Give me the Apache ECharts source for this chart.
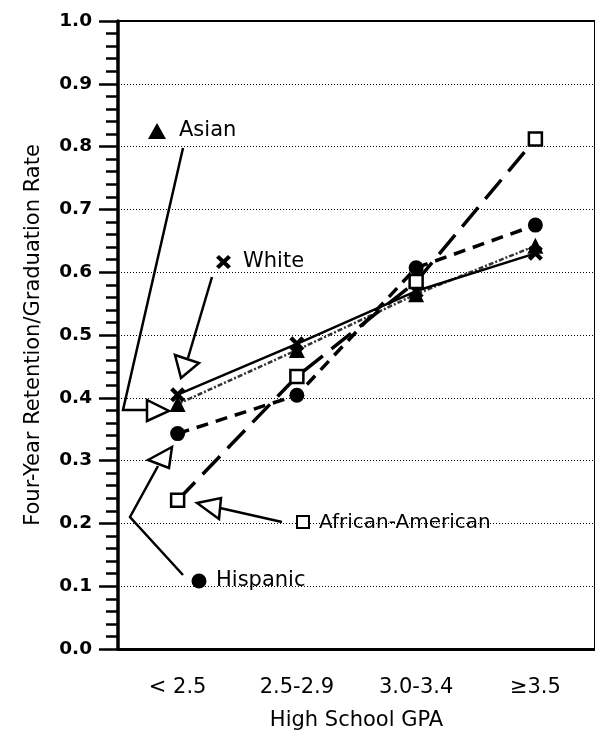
<!DOCTYPE html>
<html>
<head>
<meta charset="utf-8">
<script src="https://cdn.jsdelivr.net/npm/echarts@6/dist/echarts.min.js"></script>
<style>
  html, body { margin: 0; padding: 0; background: #fff; }
  #chart { width: 595px; height: 736px; }
</style>
</head>
<body>
<div id="chart"></div>
<script>
// categories and values
const gpaGroups = ["< 2.5", "2.5-2.9", "3.0-3.4", "≥3.5"];
const asian = [0.39, 0.476, 0.565, 0.642];
const white = [0.405, 0.486, 0.57, 0.63];
const hispanic = [0.343, 0.404, 0.607, 0.675];
const africanAmerican = [0.237, 0.434, 0.585, 0.812];

const FONT = "DejaVu Sans";
const xMark = "path://M2,0 L5,3 L8,0 L10,2 L7,5 L10,8 L8,10 L5,7 L2,10 L0,8 L3,5 L0,2 Z";
// same cross shape as points, used for the callout marker
const crossPts = [[2, 0], [5, 3], [8, 0], [10, 2], [7, 5], [10, 8], [8, 10], [5, 7], [2, 10], [0, 8], [3, 5], [0, 2]];

function seriesLine(name, data, symbol, size, lineStyle, itemStyle) {
	return {
		name: name,
		type: "line",
		data: data,
		symbol: symbol,
		symbolSize: size,
		showSymbol: true,
		lineStyle: lineStyle,
		itemStyle: itemStyle || {color: "#000"},
		z: 3,
	};
}

// callout arrows with open heads
function arrow(points, head) {
	return [
		{type: "polyline", shape: {points: points}, style: {stroke: "#000", lineWidth: 2.5, fill: null}, z: 10},
		{type: "polygon", shape: {points: head}, style: {stroke: "#000", lineWidth: 2.5, fill: "#fff"}, z: 11},
	];
}

function label(text, x, y, size) {
	return {
		type: "text",
		x: x,
		y: y,
		style: {text: text, font: (size || 21) + "px '" + FONT + "'", fill: "#000", verticalAlign: "middle"},
		z: 10,
	};
}

const options = {
	animation: false,
	backgroundColor: "#fff",
	grid: {left: 118, top: 21, bottom: 85, width: 481, show: true, borderColor: "#000", borderWidth: 2},
	xAxis: {
		type: "category",
		data: gpaGroups,
		boundaryGap: true,
		name: "High School GPA",
		nameLocation: "middle",
		nameGap: 61,
		nameTextStyle: {fontFamily: FONT, fontSize: 21, color: "#000"},
		axisLine: {lineStyle: {color: "#000", width: 3}},
		axisTick: {alignWithLabel: true, length: 15, lineStyle: {width: 2.5, color: "#000"}},
		axisLabel: {margin: 28, fontFamily: FONT, fontSize: 21, color: "#000"},
	},
	yAxis: {
		type: "value",
		min: 0,
		max: 1,
		interval: 0.1,
		name: "Four-Year Retention/Graduation Rate",
		nameLocation: "middle",
		nameGap: 74,
		nameTextStyle: {fontFamily: FONT, fontSize: 21, color: "#000"},
		axisLine: {show: true, lineStyle: {color: "#000", width: 3.5}},
		axisTick: {show: true, length: 19, lineStyle: {width: 2.5, color: "#000"}},
		minorTick: {show: true, splitNumber: 5, length: 12, lineStyle: {width: 2.5, color: "#000"}},
		axisLabel: {
			margin: 26,
			fontFamily: FONT,
			fontSize: 18.5,
			fontWeight: "bold",
			color: "#000",
			formatter: (v) => v.toFixed(1),
		},
		splitLine: {show: true, lineStyle: {color: "#000", width: 1, type: [1, 2]}},
	},
	series: [
		seriesLine("Asian", asian, "triangle", 16, {color: "#333", width: 2.5, type: [5, 2, 2, 2]}),
		seriesLine("White", white, xMark, 15, {color: "#000", width: 2.5, type: "solid"}),
		seriesLine("Hispanic", hispanic, "circle", 15, {color: "#000", width: 3.5, type: [12, 8]}),
		seriesLine("African-American", africanAmerican, "rect", 13, {color: "#000", width: 3.5, type: [25, 11]},
			{color: "#fff", borderColor: "#000", borderWidth: 2.5}),
	],
	graphic: [].concat(
		// Asian callout
		[{type: "polygon", shape: {points: [[148, 139], [166, 139], [157, 123]]}, style: {fill: "#000"}, z: 10}],
		[label("Asian", 179, 131)],
		arrow([[183, 148], [123, 410], [147, 410]], [[147, 400], [147, 421], [169, 411]]),
		// White callout
		[{type: "polygon", shape: {points: crossPts.map((p) => [216 + p[0] * 1.5, 255 + p[1] * 1.4])},
			style: {fill: "#000"}, z: 10}],
		[label("White", 243, 262)],
		arrow([[212, 277], [188, 358]], [[175, 355], [199, 363], [181, 378]]),
		// Hispanic callout
		[{type: "circle", shape: {cx: 199, cy: 581, r: 7.5}, style: {fill: "#000"}, z: 10}],
		[label("Hispanic", 216, 581)],
		arrow([[183, 575], [130, 517], [158, 466]], [[148, 460], [172, 447], [169, 468]]),
		// African-American callout
		[{type: "rect", shape: {x: 297, y: 516, width: 12, height: 12}, style: {fill: "#fff", stroke: "#000", lineWidth: 2}, z: 10}],
		[label("African-American", 319, 523, 20)],
		arrow([[282, 522], [220, 508]], [[197, 503], [221, 498], [219, 519]])
	),
};

const chart = echarts.init(document.getElementById("chart"));
chart.setOption(options);
</script>
</body>
</html>
